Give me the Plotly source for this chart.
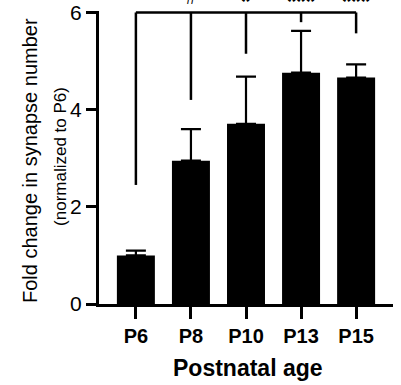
import plotly.graph_objects as go

categories = ["P6", "P8", "P10", "P13", "P15"]
means = [1.0, 2.95, 3.71, 4.76, 4.66]
errors_up = [0.10, 0.65, 0.97, 0.86, 0.27]
bracket_top = 6.0
bracket_bottoms = [2.45, 4.2, 5.15, 5.8, 5.57]
sig_labels = ["", "#", "*", "***", "***"]
y_ticks = [0, 2, 4, 6]

FONT = "Liberation Sans, Arial, Helvetica, sans-serif"

fig = go.Figure()
fig.add_trace(go.Bar(
    x=categories, y=means, width=0.69,
    marker=dict(color="#000000", line=dict(width=0)),
    error_y=dict(type="data", array=errors_up, arrayminus=[0]*len(means),
                 symmetric=False, color="#000000", thickness=2.2, width=10),
    showlegend=False,
))

# significance bracket
bx, by = [categories[0], categories[-1], None], [bracket_top, bracket_top, None]
for c, b in zip(categories, bracket_bottoms):
    bx += [c, c, None]
    by += [bracket_top, b, None]
fig.add_trace(go.Scatter(x=bx, y=by, mode="lines",
                         line=dict(color="#000000", width=2.5),
                         showlegend=False, hoverinfo="skip", cliponaxis=False))

for c, s in zip(categories, sig_labels):
    if s:
        is_hash = s == "#"
        fig.add_annotation(x=c, y=bracket_top, xref="x", yref="y",
                           text=s if is_hash else f"<b>{s}</b>",
                           showarrow=False, yanchor="bottom",
                           yshift=2 if is_hash else -4.5,
                           font=dict(family=FONT, size=18 if is_hash else 24, color="#000"))

fig.add_annotation(xref="paper", yref="paper", x=-0.235, y=0.491,
                   text="Fold change in synapse number", textangle=-90,
                   showarrow=False, xanchor="center", yanchor="middle",
                   font=dict(family=FONT, size=20, color="#000"))
fig.add_annotation(xref="paper", yref="paper", x=-0.133, y=0.505,
                   text="(normalized to P6)", textangle=-90,
                   showarrow=False, xanchor="center", yanchor="middle",
                   font=dict(family=FONT, size=17, color="#000"))
fig.add_annotation(xref="paper", yref="paper", x=0.507, y=-0.218,
                   text="<b>Postnatal age</b>",
                   showarrow=False, xanchor="center", yanchor="middle",
                   font=dict(family=FONT, size=23, color="#000"))

fig.update_layout(
    width=401, height=385,
    margin=dict(l=99, r=8, t=11, b=81, autoexpand=False),
    plot_bgcolor="white", paper_bgcolor="white",
    font=dict(family=FONT, color="#000"),
    bargap=0.31,
)
fig.update_xaxes(
    type="category", categoryorder="array", categoryarray=categories,
    range=[-0.67, 4.67],
    showline=True, linecolor="#000", linewidth=3,
    ticks="outside", ticklen=12, tickwidth=3, tickcolor="#000",
    tickfont=dict(family=FONT, size=20, color="#000"),
    tickvals=categories, ticktext=[f"<b>{c}</b>" for c in categories],
    showgrid=False, zeroline=False,
)
fig.update_yaxes(
    range=[0, 6.03],
    showline=True, linecolor="#000", linewidth=3,
    ticks="outside", ticklen=10, tickwidth=3, tickcolor="#000",
    tickvals=y_ticks, tickfont=dict(family=FONT, size=21, color="#000"),
    showgrid=False, zeroline=False,
)

fig.write_html("out.html")
